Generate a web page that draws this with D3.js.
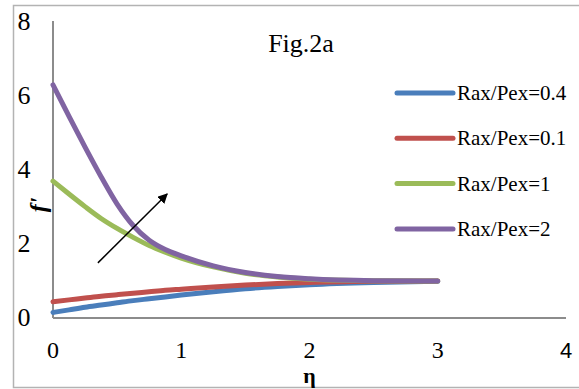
<!DOCTYPE html>
<html>
<head>
<title>Fig.2a</title>
<script src="https://cdnjs.cloudflare.com/ajax/libs/d3/7.8.5/d3.min.js"></script>
<style>
body{margin:0;background:#fff;}
</style>
</head>
<body>
<script>
	// values
	var eta = [0, 0.125, 0.25, 0.375, 0.5, 0.625, 0.75, 0.875, 1, 1.25, 1.5, 1.75, 2, 2.5, 3];
	var series04 = [0.15, 0.22, 0.29, 0.35, 0.41, 0.47, 0.52, 0.57, 0.62, 0.71, 0.79, 0.85, 0.90, 0.96, 0.99];
	var series01 = [0.44, 0.49, 0.54, 0.59, 0.63, 0.67, 0.71, 0.75, 0.78, 0.84, 0.89, 0.93, 0.96, 0.99, 1.0];
	var series1  = [3.70, 3.35, 3.01, 2.69, 2.42, 2.18, 1.96, 1.78, 1.62, 1.38, 1.21, 1.11, 1.05, 1.01, 1.0];
	var series2  = [6.30, 5.45, 4.62, 3.82, 3.08, 2.50, 2.10, 1.85, 1.68, 1.41, 1.23, 1.12, 1.06, 1.01, 1.0];
	var names = ["Rax/Pex=0.4", "Rax/Pex=0.1", "Rax/Pex=1", "Rax/Pex=2"];
	var colors = ["#4a7ebb", "#c0504d", "#9bbb59", "#8064a2"];
	var xTicks = [0, 1, 2, 3, 4];
	var yTicks = [0, 2, 4, 6, 8];
	var arrowFrom = [0.35, 1.49], arrowTo = [0.89, 3.35];

	var width = 579, height = 389;
	var svg = d3.select("body").append("svg")
		.attr("width", width)
		.attr("height", height);

	// outer frame
	svg.append("rect")
		.attr("x", 13.5).attr("y", 5.5)
		.attr("width", 580).attr("height", 382)
		.attr("fill", "none")
		.attr("stroke", "#b3b3b3")
		.attr("stroke-width", 1.5);

	var x = d3.scaleLinear().domain([0, 4]).range([53, 566]);
	var y = d3.scaleLinear().domain([0, 8]).range([318, 22]);

	// axis lines
	svg.append("line")
		.attr("x1", x(0)).attr("x2", x(0))
		.attr("y1", y(8) - 1).attr("y2", y(0))
		.attr("stroke", "#8c8c8c").attr("stroke-width", 2);
	svg.append("line")
		.attr("x1", x(0)).attr("x2", x(4))
		.attr("y1", y(0)).attr("y2", y(0))
		.attr("stroke", "#8c8c8c").attr("stroke-width", 2);

	// tick labels
	svg.selectAll(".ytick")
		.data(yTicks)
		.enter().append("text")
		.attr("class", "ytick")
		.attr("x", 24)
		.attr("y", function(d){ return y(d) + 8; })
		.attr("text-anchor", "middle")
		.attr("font-family", "Liberation Serif")
		.attr("font-size", "26px")
		.text(function(d){ return d; });

	svg.selectAll(".xtick")
		.data(xTicks)
		.enter().append("text")
		.attr("class", "xtick")
		.attr("x", function(d){ return x(d); })
		.attr("y", 358)
		.attr("text-anchor", "middle")
		.attr("font-family", function(d){ return d == 4 ? "Liberation Sans" : "Liberation Serif"; })
		.attr("font-size", function(d){ return d == 4 ? "22px" : "24px"; })
		.text(function(d){ return d; });

	// axis titles
	svg.append("text")
		.attr("x", x(2)).attr("y", 383)
		.attr("text-anchor", "middle")
		.attr("font-family", "Liberation Serif")
		.attr("font-weight", "bold")
		.attr("font-size", "22px")
		.text("η");

	svg.append("text")
		.attr("transform", "translate(46,205) rotate(-90)")
		.attr("text-anchor", "middle")
		.attr("font-family", "Liberation Serif")
		.attr("font-weight", "bold")
		.attr("font-style", "italic")
		.attr("font-size", "24px")
		.text("f'");

	svg.append("text")
		.attr("x", 301).attr("y", 52)
		.attr("text-anchor", "middle")
		.attr("font-family", "Liberation Serif")
		.attr("font-size", "26px")
		.text("Fig.2a");

	// curves
	var all = [series04, series01, series1, series2];
	var line = d3.line()
		.x(function(d, i){ return x(eta[i]); })
		.y(function(d){ return y(d); })
		.curve(d3.curveMonotoneX);

	svg.selectAll(".curve")
		.data(all)
		.enter().append("path")
		.attr("class", "curve")
		.attr("d", line)
		.attr("fill", "none")
		.attr("stroke", function(d, i){ return colors[i]; })
		.attr("stroke-width", 5)
		.attr("stroke-linecap", "round");

	// arrow
	svg.append("defs").append("marker")
		.attr("id", "head")
		.attr("viewBox", "0 0 10 10")
		.attr("refX", 9).attr("refY", 5)
		.attr("markerWidth", 10).attr("markerHeight", 10)
		.attr("markerUnits", "userSpaceOnUse")
		.attr("orient", "auto")
		.append("path")
		.attr("d", "M0,0L10,5L0,10z")
		.attr("fill", "#000");
	svg.append("line")
		.attr("x1", x(arrowFrom[0])).attr("y1", y(arrowFrom[1]))
		.attr("x2", x(arrowTo[0])).attr("y2", y(arrowTo[1]))
		.attr("stroke", "#000").attr("stroke-width", 1.5)
		.attr("marker-end", "url(#head)");

	// legend
	var legend = svg.selectAll(".legend")
		.data(names)
		.enter().append("g")
		.attr("class", "legend")
		.attr("transform", function(d, i){ return "translate(397," + (93 + i * 45.3) + ")"; });
	legend.append("line")
		.attr("x1", 0).attr("x2", 56)
		.attr("stroke", function(d, i){ return colors[i]; })
		.attr("stroke-width", 5)
		.attr("stroke-linecap", "round");
	legend.append("text")
		.attr("x", 60).attr("y", 7)
		.attr("font-family", "Liberation Serif")
		.attr("font-size", "21px")
		.text(function(d){ return d; });
</script>
</body>
</html>
